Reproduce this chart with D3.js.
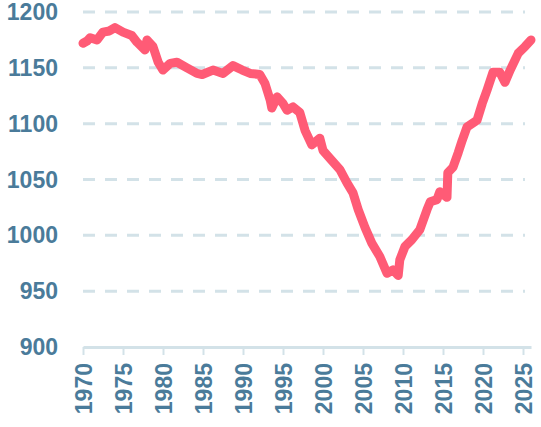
<!DOCTYPE html>
<html><head><meta charset="utf-8">
<script src="https://cdn.jsdelivr.net/npm/d3@7"></script>
<style>html,body{margin:0;padding:0;background:#fff;}svg{display:block;}</style>
</head><body>
<script>
const years = [1970.0,1970.5,1970.9,1971.75,1972.5,1973.3,1974.0,1975.0,1976.1,1976.75,1977.75,1978.0,1978.75,1979.4,1980.0,1980.9,1981.75,1983.0,1984.25,1984.9,1986.25,1987.5,1988.75,1989.9,1990.9,1992.1,1992.75,1993.4,1993.6,1994.25,1995.0,1995.5,1996.25,1997.1,1997.75,1998.6,1999.6,2000.0,2001.1,2002.1,2003.0,2003.75,2004.4,2005.25,2006.1,2007.1,2008.0,2008.75,2009.4,2009.6,2010.25,2011.1,2012.1,2013.0,2013.4,2014.25,2014.6,2015.5,2015.6,2016.25,2016.9,2017.4,2018.0,2019.25,2019.9,2020.5,2021.25,2022.1,2022.75,2023.4,2024.4,2025.25,2026.0];
const values = [1172,1174,1177,1175,1182,1183,1186,1182,1179,1173,1166,1175,1169,1155,1148,1154,1155,1150,1145,1144,1148,1145,1152,1148,1145,1144,1136,1121,1114,1124,1118,1112,1115,1110,1094,1081,1087,1076,1067,1059,1047,1038,1023,1007,993,981,966,969,964,978,990,996,1005,1023,1030,1032,1039,1034,1056,1061,1074,1085,1097,1103,1118,1130,1146,1146,1137,1148,1163,1169,1175];
const yTicks = [900,950,1000,1050,1100,1150,1200];
const xTicks = [1970,1975,1980,1985,1990,1995,2000,2005,2010,2015,2020,2025];

const W = 541, H = 427;
const svg = d3.select("body").append("svg").attr("width", W).attr("height", H);
const x = d3.scaleLinear().domain([1970, 2026]).range([83, 531]);
const y = d3.scaleLinear().domain([900, 1200]).range([347, 12]);
const txt = "#4a7b9a";
const grid = "#d3e2e8";
const font = "'Liberation Sans', Arial, sans-serif";

// gridlines
svg.append("g").selectAll("line").data(yTicks.filter(d => d > 900)).join("line")
  .attr("x1", x(1970)).attr("x2", 525)
  .attr("y1", d => y(d)).attr("y2", d => y(d))
  .attr("stroke", grid).attr("stroke-width", 3).attr("stroke-dasharray", "12,10");

// y labels
svg.append("g").selectAll("text").data(yTicks).join("text")
  .attr("x", 58).attr("y", d => y(d)).attr("dy", "0.35em")
  .attr("text-anchor", "end").attr("fill", txt)
  .style("font-family", font).style("font-weight", "bold").style("font-size", "23px")
  .text(d => d);

// x axis
const xAxis = d3.axisBottom(x).tickValues(xTicks).tickFormat(d3.format("d")).tickSize(8).tickSizeOuter(0);
const gx = svg.append("g").attr("transform", `translate(0,${y(900)})`).call(xAxis);
gx.select(".domain").attr("stroke", grid).attr("stroke-width", 3);
gx.selectAll(".tick line").attr("stroke", grid).attr("stroke-width", 2);
gx.selectAll(".tick text")
  .attr("fill", txt).style("font-family", font).style("font-weight", "bold").style("font-size", "23px")
  .attr("transform", "rotate(-90)").attr("text-anchor", "end")
  .attr("x", -16).attr("y", 0).attr("dy", "0.35em");

// line
const data = years.map((d, i) => ({x: d, y: values[i]}));
svg.append("path").datum(data)
  .attr("fill", "none").attr("stroke", "#ff5b76").attr("stroke-width", 9)
  .attr("stroke-linejoin", "round").attr("stroke-linecap", "round")
  .attr("d", d3.line().x(d => x(d.x)).y(d => y(d.y)));
</script>
</body></html>
